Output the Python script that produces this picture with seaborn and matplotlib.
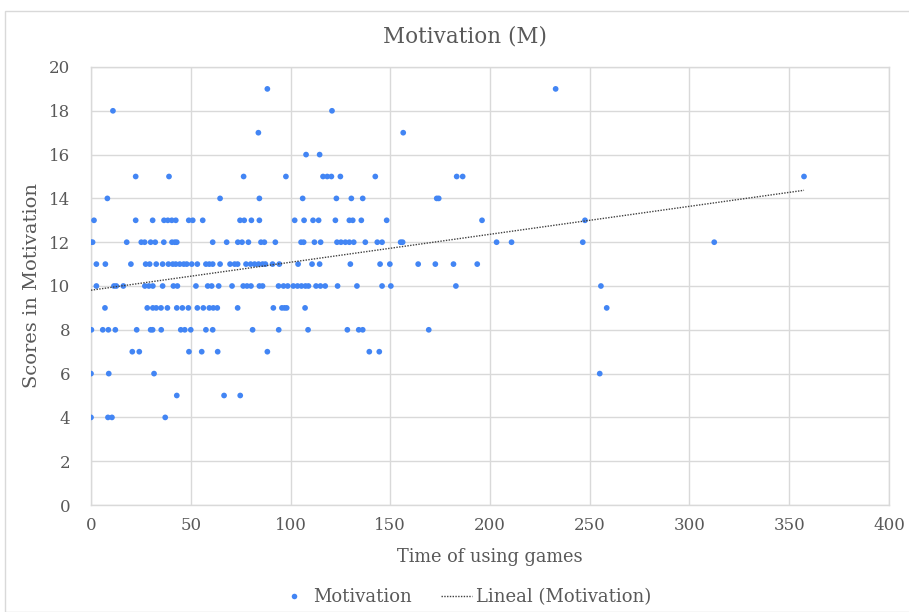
import numpy as np
import pandas as pd
import matplotlib
matplotlib.use("Agg")
import matplotlib.pyplot as plt
from matplotlib.patches import Rectangle
from matplotlib.lines import Line2D
import seaborn as sns

# Time of using games, grouped by the motivation score of each respondent
time_score_19 = [88.4, 232.9]
time_score_18 = [11, 120.8]
time_score_17 = [83.9, 156.5]
time_score_16 = [107.8, 114.6]
time_score_15 = [22.4, 39.1, 76.5, 97.7, 116.3, 118.4, 120.5, 125, 142.5, 183.3, 186.3, 357.4]
time_score_14 = [8.2, 64.7, 84.4, 106.1, 123, 130.5, 136.2, 173.3, 174.3]
time_score_13 = [1.5, 22.4, 30.9, 36.6, 38.5, 40.5, 42.5, 49, 51, 56, 74.7, 76.8, 80.4, 84.4,
                 102.1, 106.8, 111.3, 114.1, 122.5, 129.5, 131.2, 135.5, 148.2, 196, 247.6]
time_score_12 = [0, 0.8, 17.9, 25.2, 26.9, 29.9, 32.2, 36.5, 40.6, 42, 43, 61, 68, 73.6, 75.7,
                 78.9, 85.2, 86.9, 92.4, 105.3, 106.6, 112, 115.1, 123.3, 125.3, 127.5, 129.5,
                 131.7, 137.5, 143.5, 145.9, 155.2, 156.2, 203.3, 210.8, 246.5, 312.4]
time_score_11 = [2.7, 7.2, 20, 27.4, 29.4, 32.7, 35.9, 38.8, 41, 42.5, 44.5, 46.5, 48, 50.5,
                 53.3, 57.6, 59.3, 61, 64.7, 69.7, 72, 73.5, 77.7, 80, 82, 84, 86, 87.4, 91,
                 94.4, 103.8, 110.8, 114.6, 130, 144.9, 149.8, 164, 172.6, 181.7, 193.6]
time_score_10 = [2.7, 11.5, 12.7, 16.2, 27, 29, 31, 35.9, 41.3, 43.3, 52.6, 58.5, 60.5, 64,
                 70.7, 76.3, 78.2, 80.2, 84.4, 86, 94, 96.5, 98.6, 101.4, 103.5, 105.5, 107.5,
                 109, 112.8, 115, 117.4, 123.6, 133.3, 145.9, 150.3, 182.9, 255.6]
time_score_9 = [7, 28.2, 31, 32.7, 35.1, 38.3, 43, 45.8, 48.8, 53.3, 56.3, 59.3, 61.3, 63.3,
                73.5, 91.4, 95.7, 97, 98.1, 107.3, 258.5]
time_score_8 = [0.2, 5.9, 8.7, 12.2, 22.9, 29.9, 30.9, 35.2, 45, 47, 50, 57.6, 61, 81, 94.1,
                108.8, 128.5, 134.2, 136.2, 169.3]
time_score_7 = [20.7, 24.2, 49.1, 55.5, 63.5, 88.4, 139.5, 144.5]
time_score_6 = [0, 8.9, 31.6, 255]
time_score_5 = [43, 66.7, 74.8]
time_score_4 = [0, 8.5, 10.5, 37.2]

groups = {
    19: time_score_19, 18: time_score_18, 17: time_score_17, 16: time_score_16,
    15: time_score_15, 14: time_score_14, 13: time_score_13, 12: time_score_12,
    11: time_score_11, 10: time_score_10, 9: time_score_9, 8: time_score_8,
    7: time_score_7, 6: time_score_6, 5: time_score_5, 4: time_score_4,
}

x_ticks = [0, 50, 100, 150, 200, 250, 300, 350, 400]
y_ticks = [0, 2, 4, 6, 8, 10, 12, 14, 16, 18, 20]

rows = [(t, score) for score, times in groups.items() for t in times]
df = pd.DataFrame(rows, columns=["time", "score"])

# Least-squares linear trend over the observed time range
slope, intercept = np.polyfit(df["time"], df["score"], 1)
trend_x = np.array([df["time"].min(), df["time"].max()])
trend = pd.DataFrame({"time": trend_x, "score": intercept + slope * trend_x})

sns.set_theme(style="white")
plt.rcParams["font.family"] = ["DejaVu Serif"]

point_color = "#4285F4"
grid_color = "#D9D9D9"
text_color = "#595959"
trend_color = "#404040"

fig = plt.figure(figsize=(9.09, 6.12), dpi=100)
fig.patch.set_facecolor("white")
fig.patches.append(Rectangle((5 / 909, 0), 1.0, 1 - 11 / 612, transform=fig.transFigure,
                             fill=False, edgecolor=grid_color, linewidth=1.0))

ax = fig.add_axes([91 / 909, 1 - 505 / 612, (889 - 91) / 909, (505 - 67) / 612])

sns.scatterplot(data=df, x="time", y="score", ax=ax, color=point_color, s=17,
                edgecolor="none", linewidth=0, zorder=3)
sns.lineplot(data=trend, x="time", y="score", ax=ax, color=trend_color,
             linestyle=(0, (1, 1)), linewidth=1.0, zorder=4)

ax.set_xlim(0, 400)
ax.set_ylim(0, 20)
ax.set_xticks(x_ticks)
ax.set_yticks(y_ticks)
ax.grid(True, color=grid_color, linewidth=1.0)
ax.set_axisbelow(True)
for side in ax.spines.values():
    side.set_color(grid_color)
    side.set_linewidth(1.0)
ax.tick_params(axis="both", length=0, colors=text_color, labelsize=12)
ax.tick_params(axis="x", pad=9)
ax.tick_params(axis="y", pad=15)

ax.set_xlabel("Time of using games", color=text_color, fontsize=12.8, labelpad=10)
ax.set_ylabel("Scores in Motivation", color=text_color, fontsize=14, labelpad=6)

fig.text(465 / 909, 1 - 36 / 612, "Motivation (M)", color=text_color, fontsize=15.5,
         ha="center", va="center")

handles = [
    Line2D([], [], marker="o", linestyle="none", color=point_color, markersize=4,
           markeredgewidth=0),
    Line2D([], [], color=trend_color, linestyle=(0, (1, 1)), linewidth=1.0),
]
fig.legend(handles, ["Motivation", "Lineal (Motivation)"], loc="center",
           bbox_to_anchor=(465 / 909, 1 - 597 / 612), ncol=2, frameon=False,
           fontsize=13, labelcolor=text_color, handlelength=1.7, handletextpad=0.25,
           columnspacing=1.6)

fig.savefig("out.png", dpi=100, facecolor="white")
